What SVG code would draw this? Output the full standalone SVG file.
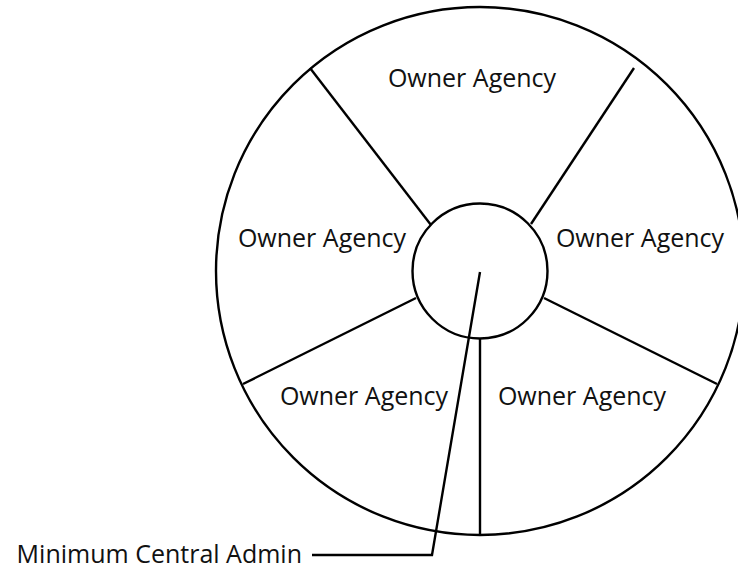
<svg xmlns="http://www.w3.org/2000/svg" width="738" height="569" viewBox="0 0 738 569">
<style>
.ln{fill:none;stroke:#000;stroke-width:2.4}
.t{font-family:"Open Sans","Liberation Sans",sans-serif;font-size:25px;fill:#111;text-anchor:middle}
</style>
<rect width="738" height="569" fill="#fff"/>
<g id="wheel">
<circle class="ln" cx="480" cy="271" r="264"/>
</g>
<g id="connectors">
<line class="ln" x1="310" y1="68" x2="431" y2="225"/>
<line class="ln" x1="634" y1="68" x2="531" y2="224"/>
<line class="ln" x1="544" y1="298" x2="717" y2="384"/>
<line class="ln" x1="416" y1="298" x2="243" y2="384"/>
<line class="ln" x1="480" y1="338" x2="480" y2="535"/>
<polyline class="ln" points="480,272 432,555 312,555"/>
</g>
<g id="center">
<circle class="ln" cx="480" cy="271" r="67.5"/>
</g>
<g id="seg-top"><text class="t" x="472" y="87">Owner Agency</text></g>
<g id="seg-left"><text class="t" x="322" y="247">Owner Agency</text></g>
<g id="seg-right"><text class="t" x="640" y="247">Owner Agency</text></g>
<g id="seg-bottom-left"><text class="t" x="364" y="405">Owner Agency</text></g>
<g id="seg-bottom-right"><text class="t" x="582" y="405">Owner Agency</text></g>
<g id="label"><text class="t" x="302" y="563" style="text-anchor:end">Minimum Central Admin</text></g>
</svg>
